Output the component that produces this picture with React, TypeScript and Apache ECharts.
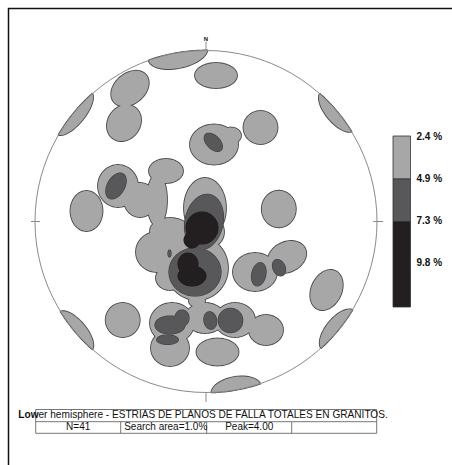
import React, { useEffect, useRef } from 'react';
import * as echarts from 'echarts';

const NET_RADIUS = 171;

// Contour blobs in net units (centre 0,0; north = +y): [x, y, rx, ry, tiltDeg]
const lightBlobs = [
  [-28, 167.5, 30, 14, 12],
  [10, 146, 21, 12.5, 0],
  [-76, 133, 21, 15, 40],
  [-82, 98.5, 19, 16, 55],
  [-132, 108.5, 27, 11, 51],
  [131, 110, 25, 11, -50],
  [54.5, 94, 17, 16.5, 0],
  [8, 77, 24, 20, 0],
  [25, 86, 10, 8, 0],
  [-119.5, 10.5, 16, 20, 0],
  [72.8, 12.5, 17, 18.3, 0],
  [49, -50.5, 22, 19, 0],
  [81, -35.5, 20, 15, 25],
  [120.5, -68.5, 15, 21, -25],
  [132.1, -108.6, 25, 12, 50.6],
  [30.1, -168.4, 25, 13, 10],
  [-130.8, -110.1, 25, 11, -50],
  [-83.3, -98.5, 17, 17, 0],
  [-34, -101.5, 22, 20, 0],
  [-36, -126.5, 19, 18, 0],
  [-1, -96.5, 20, 15, 0],
  [29, -98.5, 20, 17, 0],
  [60, -108.5, 17, 15, 0],
  [-9, -79.5, 8, 6, 0],
  [11.5, -130.5, 21, 13.5, 0],
  [-88, 35.5, 20, 21, 0],
  [-66, 21.5, 16, 17, 0],
  [-40, 50.5, 17, 12, 0],
  [-49, 21.5, 10, 26, 0],
  [-36, -9.5, 20, 13, 0],
  [-20, -14.5, 14, 13, 0],
  [-49, -30.5, 21, 20, 0],
  [-1, 13.5, 21, 30, 0],
  [-9, -46.5, 31, 32, 0],
  [-36, -56.5, 14, 12, 0],
  [6, -10.5, 12, 14, 0],
];

const darkBlobs = [
  [-90, 35.5, 14, 8.5, 60],
  [7.3, 79.2, 11, 6.5, -45],
  [52.8, -52.8, 7, 11.7, -12],
  [73, -46.2, 6, 8.5, 25],
  [-36, -103.5, 15, 9, 0],
  [-24, -96.5, 7, 8, 0],
  [-38.5, -118.2, 10.8, 4.7, 0],
  [4.3, -99, 6.3, 8.8, 10],
  [24.5, -99, 12.2, 12.2, 0],
  [-2, -0.5, 19, 28, -12],
  [-11, -50.5, 26, 24, 0],
  [-36.5, -32, 1.5, 3.5, 0],
];

const blackBlobs = [
  [-4, -6.5, 16, 16, 0],
  [-14, -18.5, 8, 8, 0],
  [-18, -42.5, 10, 11, 0],
  [-14, -54.5, 14, 10, 0],
];

const levelBlobs = [lightBlobs, darkBlobs, blackBlobs];
const levelColors = ['#a7a7a8', '#58585a', '#231f20'];
const levelOutline = ['#4a4a4a', '#3e3e40', '#1a1718'];
const levelOutlineWidth = [1.8, 1.2, 1];
const legendLabels = ['2.4 %', '4.9 %', '7.3 %', '9.8 %'];
const tickMarks = [
  [0, 171, 0, 180],
  [-175, 0, -166, 0],
  [167, 0, 177, 0],
  [0, -171.5, 0, -180.5],
];
const compassLabels = [{ name: 'N', value: [0, 183] }];
const titleText = '{b|Low}er hemisphere - ESTRIAS DE PLANOS DE FALLA TOTALES EN GRANITOS.';
const tableCells = ['N=41', 'Search area=1.0%', 'Peak=4.00', ''];

const FONT = '"Liberation Sans", Arial, sans-serif';

function blobPoints(b: number[], api: any) {
  const [cx, cy, rx, ry, deg] = b;
  const a = (deg * Math.PI) / 180;
  const pts: number[][] = [];
  const n = 72;
  for (let i = 0; i < n; i++) {
    const t = (i / n) * Math.PI * 2;
    const x = rx * Math.cos(t);
    const y = ry * Math.sin(t);
    let X = cx + x * Math.cos(a) - y * Math.sin(a);
    let Y = cy + x * Math.sin(a) + y * Math.cos(a);
    const d = Math.hypot(X, Y);
    if (d > NET_RADIUS) {
      X = (X * NET_RADIUS) / d;
      Y = (Y * NET_RADIUS) / d;
    }
    pts.push(api.coord([X, Y]));
  }
  return pts;
}

export default function App() {
  const ref = useRef<HTMLDivElement>(null);
  useEffect(() => {
    if (!ref.current) return;
    const chart = echarts.init(ref.current, undefined, { renderer: 'svg' });

    const barX = 393;
    const barW = 17.5;
    const barEdges = [136, 179, 221.5, 307];
    const labelY = [136, 178.5, 220.5, 262.5];

    const graphics: any[] = [
      {
        type: 'rect',
        shape: { x: 8.5, y: 8.5, width: 470, height: 480 },
        style: { fill: 'none', stroke: '#111', lineWidth: 1.5 },
        silent: true,
      },
    ];
    levelColors.forEach((c, i) => {
      graphics.push({
        type: 'rect',
        shape: { x: barX, y: barEdges[i], width: barW, height: barEdges[i + 1] - barEdges[i] },
        style: { fill: c, stroke: '#333', lineWidth: 0.8 },
      });
    });
    legendLabels.forEach((t, i) => {
      graphics.push({
        type: 'text',
        x: 416.5,
        y: labelY[i],
        style: {
          text: t,
          fill: '#111',
          font: `bold 10px ${FONT}`,
          align: 'left',
          verticalAlign: 'middle',
        },
      });
    });
    // table
    const tLeft = 35.7, tRight = 376.7, tTop = 409.5, tMid = 421.7, tBot = 433.3;
    const colEdges = [tLeft, 120.7, 206.7, 291.7, tRight];
    graphics.push({
      type: 'rect',
      shape: { x: tLeft, y: tTop, width: tRight - tLeft, height: tBot - tTop },
      style: { fill: 'none', stroke: '#777', lineWidth: 1 },
    });
    graphics.push({
      type: 'line',
      shape: { x1: tLeft, y1: tMid, x2: tRight, y2: tMid },
      style: { stroke: '#777', lineWidth: 1 },
    });
    for (let i = 1; i < colEdges.length - 1; i++) {
      graphics.push({
        type: 'line',
        shape: { x1: colEdges[i], y1: tMid, x2: colEdges[i], y2: tBot },
        style: { stroke: '#777', lineWidth: 1 },
      });
    }
    tableCells.forEach((t, i) => {
      if (!t) return;
      const left = i === 1;
      graphics.push({
        type: 'text',
        x: left ? colEdges[i] + 3.5 : (colEdges[i] + colEdges[i + 1]) / 2,
        y: 426.5,
        style: {
          text: t,
          fill: '#111',
          font: `10px ${FONT}`,
          align: left ? 'left' : 'center',
          verticalAlign: 'middle',
        },
      });
    });
    graphics.push({
      type: 'text',
      x: 18.3,
      y: 414.5,
      style: {
        text: titleText,
        fill: '#111',
        font: `10.1px ${FONT}`,
        align: 'left',
        verticalAlign: 'middle',
        rich: {
          b: { fontWeight: 'bold', fontSize: 10.1, fontFamily: FONT, fill: '#111' },
        },
      },
    });

    chart.setOption({
      animation: false,
      backgroundColor: '#ffffff',
      grid: { left: 35, top: 50.5, width: 342, height: 342 },
      xAxis: { type: 'value', min: -NET_RADIUS, max: NET_RADIUS, show: false },
      yAxis: { type: 'value', min: -NET_RADIUS, max: NET_RADIUS, show: false },
      series: [
        {
          // one item per contour level: outlines of all blobs first, then their fills,
          // so that overlapping blobs merge into one outlined region
          type: 'custom',
          coordinateSystem: 'cartesian2d',
          silent: true,
          clip: false,
          data: levelColors.map((_, i) => [0, 0, i]),
          encode: { x: 0, y: 1 },
          renderItem: (params: any, api: any) => {
            const lvl = params.dataIndex;
            const blobs = levelBlobs[lvl];
            const polys = blobs.map((b) => blobPoints(b, api));
            const children: any[] = [];
            polys.forEach((pts) =>
              children.push({
                type: 'polygon',
                shape: { points: pts },
                style: {
                  fill: levelColors[lvl],
                  stroke: levelOutline[lvl],
                  lineWidth: levelOutlineWidth[lvl],
                  lineJoin: 'round',
                },
              })
            );
            polys.forEach((pts) =>
              children.push({
                type: 'polygon',
                shape: { points: pts },
                style: { fill: levelColors[lvl] },
              })
            );
            return { type: 'group', children };
          },
        },
        {
          type: 'custom',
          coordinateSystem: 'cartesian2d',
          silent: true,
          clip: false,
          data: [[0, 0, NET_RADIUS]],
          encode: { x: 0, y: 1 },
          renderItem: (_p: any, api: any) => {
            const c = api.coord([api.value(0), api.value(1)]);
            const r = api.size([api.value(2), 0])[0];
            return {
              type: 'circle',
              shape: { cx: c[0], cy: c[1], r },
              style: { fill: 'none', stroke: '#8a8a8a', lineWidth: 1 },
            };
          },
        },
        {
          type: 'custom',
          coordinateSystem: 'cartesian2d',
          silent: true,
          clip: false,
          data: tickMarks,
          encode: { x: [0, 2], y: [1, 3] },
          renderItem: (_p: any, api: any) => {
            const p1 = api.coord([api.value(0), api.value(1)]);
            const p2 = api.coord([api.value(2), api.value(3)]);
            return {
              type: 'line',
              shape: { x1: p1[0], y1: p1[1], x2: p2[0], y2: p2[1] },
              style: { stroke: '#8a8a8a', lineWidth: 1 },
            };
          },
        },
        {
          type: 'custom',
          coordinateSystem: 'cartesian2d',
          silent: true,
          clip: false,
          data: compassLabels,
          encode: { x: 0, y: 1 },
          renderItem: (p: any, api: any) => {
            const c = api.coord([api.value(0), api.value(1)]);
            return {
              type: 'text',
              x: c[0],
              y: c[1],
              style: {
                text: compassLabels[p.dataIndex].name,
                fill: '#111',
                font: `bold 6px ${FONT}`,
                align: 'center',
                verticalAlign: 'middle',
              },
            };
          },
        },
      ],
      graphic: graphics,
    });
    return () => chart.dispose();
  }, []);
  return (
    <div
      ref={ref}
      style={{ position: 'absolute', left: 0, top: 0, width: 452, height: 465, background: '#fff' }}
    />
  );
}
